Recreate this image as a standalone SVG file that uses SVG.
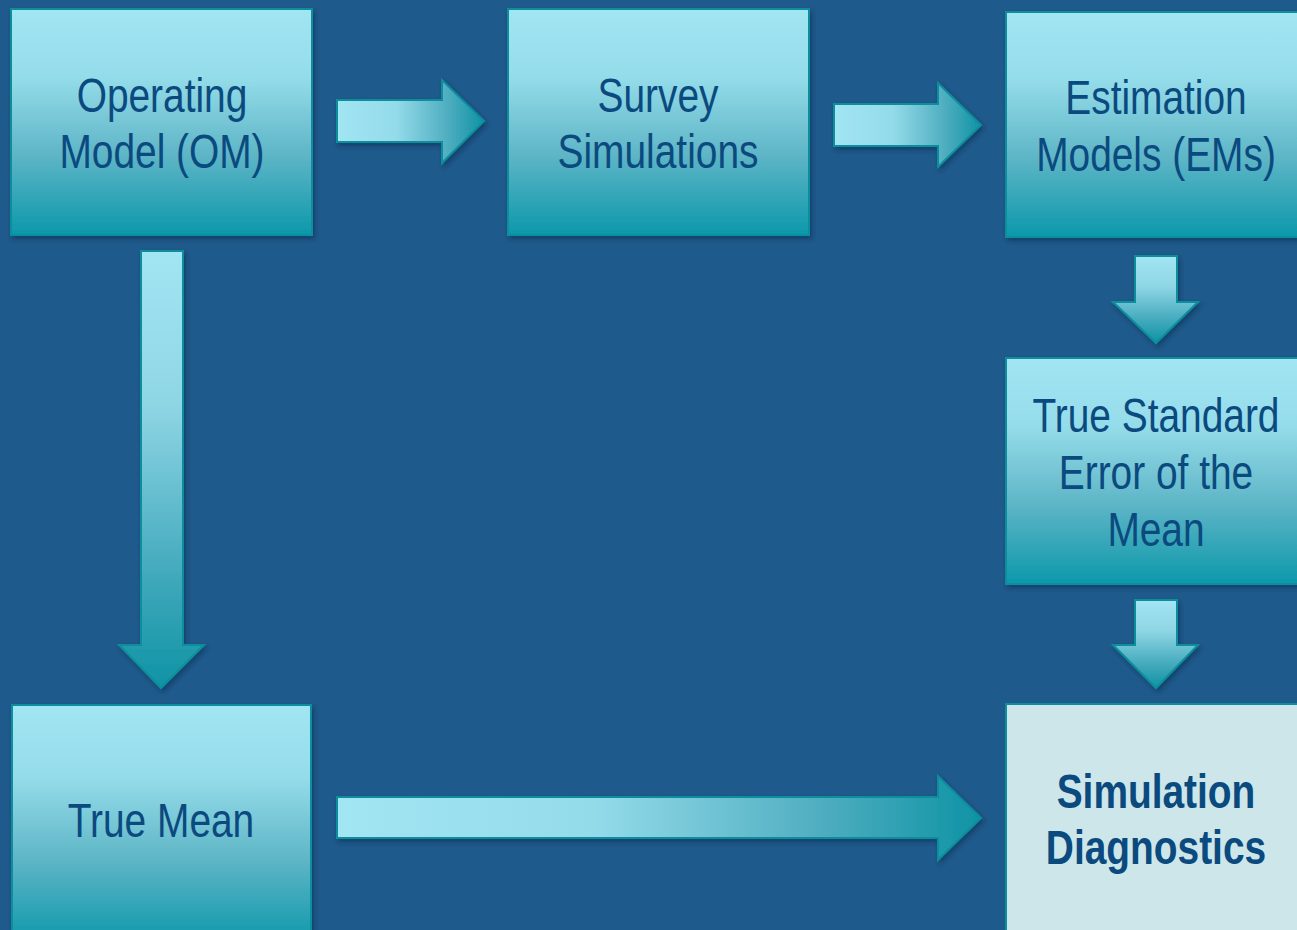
<svg xmlns="http://www.w3.org/2000/svg" width="1297" height="930" viewBox="0 0 1297 930">
  <defs>
    <linearGradient id="boxFill" x1="0" y1="0" x2="0" y2="1">
      <stop offset="0" stop-color="#a2e5f3"/>
      <stop offset="0.3" stop-color="#95dcea"/>
      <stop offset="0.65" stop-color="#5db5c6"/>
      <stop offset="1" stop-color="#0c98ab"/>
    </linearGradient>
    <linearGradient id="arrowH" x1="0" y1="0" x2="1" y2="0">
      <stop offset="0" stop-color="#a2e5f3"/>
      <stop offset="0.4" stop-color="#94dbea"/>
      <stop offset="0.75" stop-color="#4faec0"/>
      <stop offset="1" stop-color="#0e93a5"/>
    </linearGradient>
    <linearGradient id="arrowV" x1="0" y1="0" x2="0" y2="1">
      <stop offset="0" stop-color="#a2e5f3"/>
      <stop offset="0.35" stop-color="#8fd6e5"/>
      <stop offset="0.75" stop-color="#40a8bb"/>
      <stop offset="1" stop-color="#0e93a5"/>
    </linearGradient>
    <filter id="shadow" x="-10%" y="-10%" width="130%" height="130%">
      <feDropShadow dx="2" dy="3" stdDeviation="2.5" flood-color="#0a2440" flood-opacity="0.45"/>
    </filter>
    <style>
      .box { fill: url(#boxFill); stroke: #0e8e9c; stroke-width: 2; filter: url(#shadow); }
      .box-light { fill: #cde6ea; stroke: #0e8e9c; stroke-width: 2; }
      .arr-h { fill: url(#arrowH); stroke: #0e8e9c; stroke-width: 2; stroke-linejoin: miter; filter: url(#shadow); }
      .arr-v { fill: url(#arrowV); stroke: #0e8e9c; stroke-width: 2; stroke-linejoin: miter; filter: url(#shadow); }
      .label { font-family: "Liberation Sans", Arial, sans-serif; font-size: 48px; fill: #0b4a7f; text-anchor: middle; }
      .bold { font-weight: bold; }
    </style>
  </defs>

  <rect width="1297" height="930" fill="#1f5a8c"/>

  <!-- connectors: block arrows between the stages -->
  <g id="connectors">
    <path class="arr-h" d="M337 100 H442 V80 L484 121 L442 163 V142 H337 Z"/>
    <path class="arr-h" d="M834 104 H938 V83 L981 125 L938 167 V146 H834 Z"/>
    <path class="arr-h" d="M337 797 H938 V776 L981 818 L938 860 V838 H337 Z"/>
    <path class="arr-v" d="M141 251 H183 V645 H204 L161 688 L119 645 H141 Z"/>
    <path class="arr-v" d="M1135 256 H1177 V302 H1198 L1156 343 L1113 302 H1135 Z"/>
    <path class="arr-v" d="M1135 600 H1177 V645 H1198 L1156 688 L1113 645 H1135 Z"/>
  </g>

  <g id="node-om">
    <rect class="box" x="11" y="9" width="301" height="226"/>
    <g transform="translate(162 0) scale(0.81 1)">
      <text class="label" x="0" y="112">Operating</text>
      <text class="label" x="0" y="168">Model (OM)</text>
    </g>
  </g>

  <g id="node-survey">
    <rect class="box" x="508" y="9" width="301" height="226"/>
    <g transform="translate(658 0) scale(0.81 1)">
      <text class="label" x="0" y="112">Survey</text>
      <text class="label" x="0" y="168">Simulations</text>
    </g>
  </g>

  <g id="node-em">
    <rect class="box" x="1006" y="12" width="300" height="225"/>
    <g transform="translate(1156 0) scale(0.81 1)">
      <text class="label" x="0" y="114">Estimation</text>
      <text class="label" x="0" y="171">Models (EMs)</text>
    </g>
  </g>

  <g id="node-se">
    <rect class="box" x="1006" y="358" width="300" height="226"/>
    <g transform="translate(1156 0) scale(0.81 1)">
      <text class="label" x="0" y="432">True Standard</text>
      <text class="label" x="0" y="489">Error of the</text>
      <text class="label" x="0" y="546">Mean</text>
    </g>
  </g>

  <g id="node-truemean">
    <rect class="box" x="12" y="705" width="299" height="240"/>
    <g transform="translate(161 0) scale(0.81 1)">
      <text class="label" x="0" y="837">True Mean</text>
    </g>
  </g>

  <g id="node-diagnostics">
    <rect class="box-light" x="1006" y="704" width="300" height="240"/>
    <g transform="translate(1156 0) scale(0.81 1)">
      <text class="label bold" x="0" y="808">Simulation</text>
      <text class="label bold" x="0" y="864">Diagnostics</text>
    </g>
  </g>
</svg>
